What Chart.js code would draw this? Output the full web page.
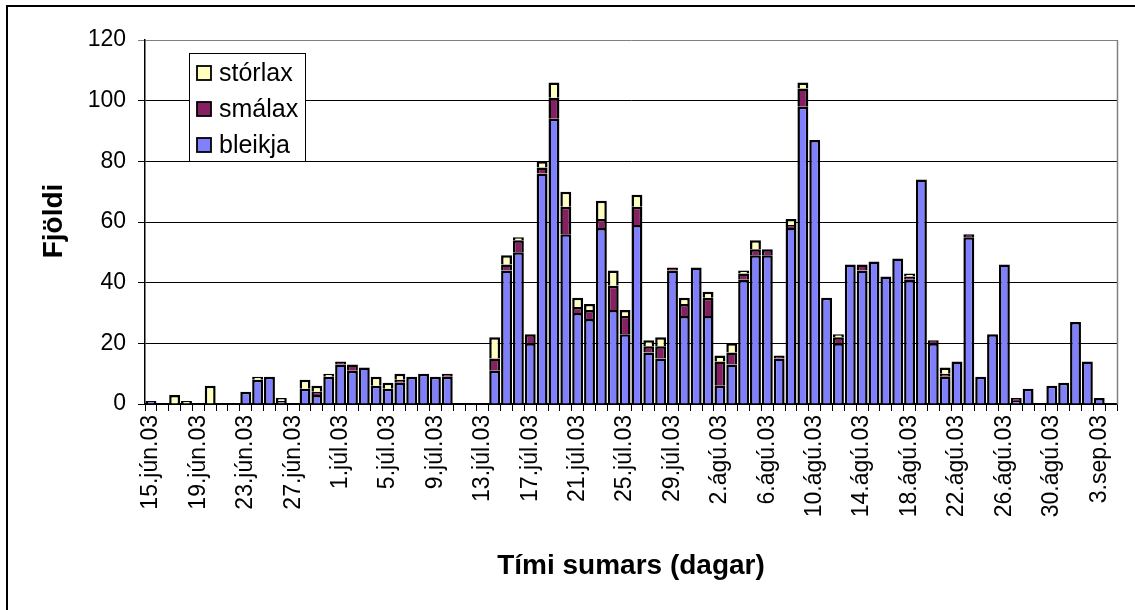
<!DOCTYPE html>
<html>
<head>
<meta charset="utf-8">
<script src="https://cdn.jsdelivr.net/npm/chart.js@4.4.1/dist/chart.umd.min.js"></script>
<style>
  html, body { margin: 0; padding: 0; background: #ffffff; }
  #wrap { width: 1135px; height: 610px; position: relative; }
  canvas { display: block; }
</style>
</head>
<body>
<div id="wrap"><canvas id="c" width="1135" height="610"></canvas></div>
<script>
const categories = [
  "15.jún.03","16.jún.03","17.jún.03","18.jún.03","19.jún.03","20.jún.03","21.jún.03","22.jún.03",
  "23.jún.03","24.jún.03","25.jún.03","26.jún.03","27.jún.03","28.jún.03","29.jún.03","30.jún.03",
  "1.júl.03","2.júl.03","3.júl.03","4.júl.03","5.júl.03","6.júl.03","7.júl.03","8.júl.03",
  "9.júl.03","10.júl.03","11.júl.03","12.júl.03","13.júl.03","14.júl.03","15.júl.03","16.júl.03",
  "17.júl.03","18.júl.03","19.júl.03","20.júl.03","21.júl.03","22.júl.03","23.júl.03","24.júl.03",
  "25.júl.03","26.júl.03","27.júl.03","28.júl.03","29.júl.03","30.júl.03","31.júl.03",
  "1.ágú.03","2.ágú.03","3.ágú.03","4.ágú.03","5.ágú.03","6.ágú.03","7.ágú.03","8.ágú.03",
  "9.ágú.03","10.ágú.03","11.ágú.03","12.ágú.03","13.ágú.03","14.ágú.03","15.ágú.03","16.ágú.03",
  "17.ágú.03","18.ágú.03","19.ágú.03","20.ágú.03","21.ágú.03","22.ágú.03","23.ágú.03","24.ágú.03",
  "25.ágú.03","26.ágú.03","27.ágú.03","28.ágú.03","29.ágú.03","30.ágú.03","31.ágú.03",
  "1.sep.03","2.sep.03","3.sep.03","4.sep.03"
];

const tickLabels = [
  "15.jún.03","19.jún.03","23.jún.03","27.jún.03","1.júl.03","5.júl.03","9.júl.03",
  "13.júl.03","17.júl.03","21.júl.03","25.júl.03","29.júl.03","2.ágú.03","6.ágú.03",
  "10.ágú.03","14.ágú.03","18.ágú.03","22.ágú.03","26.ágú.03","30.ágú.03","3.sep.03"
];

const bleikja = [
  1,0,0,0,0,0,0,0,4,8,
  9,1,0,5,3,9,13,11,12,6,
  5,7,9,10,9,9,0,0,0,11,
  44,50,20,76,94,56,30,28,58,31,
  23,59,17,15,44,29,45,29,6,13,
  41,49,49,15,58,98,87,35,20,46,
  44,47,42,48,41,74,20,9,14,55,
  9,23,46,1,5,0,6,7,27,14,
  2,0
];

const smalax = [
  0,0,0,0,0,0,0,0,0,0,
  0,0,0,0,1,0,1,2,0,0,
  0,1,0,0,0,1,0,0,0,4,
  2,4,3,2,7,9,2,3,3,8,
  6,6,2,4,1,4,0,6,8,4,
  2,2,2,1,1,6,0,0,2,0,
  2,0,0,0,1,0,1,1,0,1,
  0,0,0,1,0,0,0,0,0,0,
  0,0
];

const storlax = [
  0,0,3,1,0,6,0,0,0,1,
  0,1,0,3,2,1,0,0,0,3,
  2,2,0,0,0,0,0,0,0,7,
  3,1,0,2,5,5,3,2,6,5,
  2,4,2,3,0,2,0,2,2,3,
  1,3,0,0,2,2,0,0,1,0,
  0,0,0,0,1,0,0,2,0,0,
  0,0,0,0,0,0,0,0,0,0,
  0,0
];

const yTicks = [0, 20, 40, 60, 80, 100, 120];

const FONT = "'Liberation Sans', Arial, Helvetica, sans-serif";

const decorPlugin = {
  id: 'decor',
  beforeDatasetsDraw(chart) {
    const { ctx, chartArea } = chart;
    ctx.save();
    ctx.strokeStyle = '#808080';
    ctx.lineWidth = 1.5;
    ctx.beginPath();
    ctx.moveTo(chartArea.right + 0.5, chartArea.top);
    ctx.lineTo(chartArea.right + 0.5, chartArea.bottom);
    ctx.stroke();
    ctx.restore();
  },
  afterDraw(chart) {
    const { ctx, chartArea } = chart;
    ctx.save();
    ctx.strokeStyle = '#000';
    ctx.lineWidth = 2;
    ctx.beginPath();
    ctx.moveTo(7, 610);
    ctx.lineTo(7, 6);
    ctx.lineTo(1135, 6);
    ctx.stroke();

    ctx.fillStyle = '#000';
    ctx.font = "bold 28px " + FONT;
    ctx.textAlign = 'center';
    ctx.textBaseline = 'middle';
    ctx.fillText('Tími sumars (dagar)', (chartArea.left + chartArea.right) / 2, 566);
    ctx.save();
    ctx.translate(54, 221);
    ctx.rotate(-Math.PI / 2);
    ctx.fillText('Fjöldi', 0, 0);
    ctx.restore();

    const lx = 189.5, ly = 53.5, lw = 116, lh = 108;
    ctx.fillStyle = '#fff';
    ctx.fillRect(lx, ly, lw, lh);
    ctx.strokeStyle = '#000';
    ctx.lineWidth = 1;
    ctx.strokeRect(lx, ly, lw, lh);
    const ds = chart.data.datasets.slice().reverse();
    const rows = [73, 109, 145];
    ctx.font = "25px " + FONT;
    ctx.textAlign = 'left';
    ctx.textBaseline = 'middle';
    ds.forEach((d, k) => {
      const cy = rows[k];
      ctx.fillStyle = d.backgroundColor;
      ctx.fillRect(197, cy - 7, 14, 14);
      ctx.strokeStyle = '#000';
      ctx.lineWidth = 1.8;
      ctx.strokeRect(197, cy - 7, 14, 14);
      ctx.fillStyle = '#000';
      ctx.fillText(d.label, 219, cy + 1);
    });
    ctx.restore();
  }
};

const commonBar = { borderColor: '#000000', borderWidth: 2.5, stack: 's' };

new Chart(document.getElementById('c'), {
  type: 'bar',
  data: {
    labels: categories,
    datasets: [
      Object.assign({ label: 'bleikja', data: bleikja, backgroundColor: '#8080FF' }, commonBar),
      Object.assign({ label: 'smálax', data: smalax, backgroundColor: '#862063' }, commonBar),
      Object.assign({ label: 'stórlax', data: storlax, backgroundColor: '#FFFFC0' }, commonBar)
    ]
  },
  options: {
    responsive: false,
    animation: false,
    devicePixelRatio: 1,
    layout: { padding: { left: 0, top: 40, right: 18, bottom: 0 } },
    datasets: { bar: { categoryPercentage: 1.0, barPercentage: 0.92 } },
    plugins: { legend: { display: false }, tooltip: { enabled: false }, title: { display: false } },
    scales: {
      x: {
        stacked: true,
        offset: true,
        grid: { display: true, offset: true, drawOnChartArea: false, drawTicks: true, tickLength: 7, color: '#000', lineWidth: 1 },
        border: { display: true, color: '#000', width: 1.5 },
        ticks: {
          autoSkip: false, maxRotation: 90, minRotation: 90, padding: 4,
          color: '#000', font: { family: FONT, size: 23 },
          callback: function (v, i) { return tickLabels.includes(categories[i]) ? categories[i] : ''; }
        },
        afterFit: function (s) { s.height = 206; s.paddingLeft = 0; s.paddingRight = 0; }
      },
      y: {
        stacked: true,
        min: 0, max: 120,
        afterBuildTicks: function (s) { s.ticks = yTicks.map(v => ({ value: v })); },
        grid: {
          drawTicks: true, tickLength: 7, lineWidth: 1,
          color: function (c) { return c.tick && c.tick.value === 120 ? '#808080' : '#000'; }
        },
        border: { display: true, color: '#000', width: 1.5 },
        ticks: { padding: 12, color: '#000', font: { family: FONT, size: 23 } },
        afterFit: function (s) { s.width = 145; }
      }
    }
  },
  plugins: [decorPlugin]
});
</script>
</body>
</html>
